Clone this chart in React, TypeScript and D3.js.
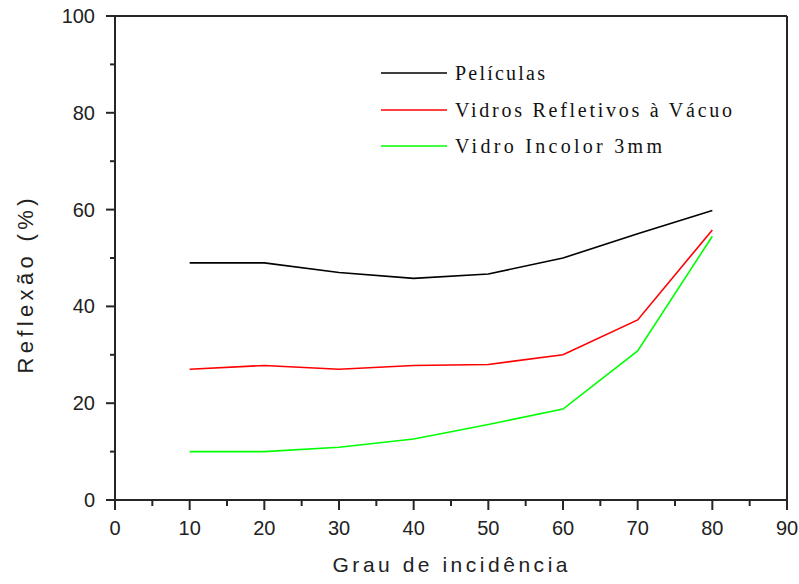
import * as d3 from "d3";

const angles = [10, 20, 30, 40, 50, 60, 70, 80];
const peliculas = [49, 49, 47, 45.8, 46.7, 50, 55, 59.8];
const vidrosRefletivos = [27, 27.8, 27, 27.8, 28, 30, 37.2, 55.8];
const vidroIncolor = [10, 10, 10.9, 12.6, 15.6, 18.8, 30.8, 54.5];

const seriesNames = ["Películas", "Vidros Refletivos à Vácuo", "Vidro Incolor 3mm"];
const seriesColors = ["#000000", "#ff0000", "#00ff00"];
const seriesValues = [peliculas, vidrosRefletivos, vidroIncolor];

const xMajorTicks = [0, 10, 20, 30, 40, 50, 60, 70, 80, 90];
const xMinorTicks = [5, 15, 25, 35, 45, 55, 65, 75, 85];
const yMajorTicks = [0, 20, 40, 60, 80, 100];
const yMinorTicks = [10, 30, 50, 70, 90];

export default function App() {
  const width = 799;
  const height = 584;
  const left = 115;
  const right = 787;
  const top = 16;
  const bottom = 500;

  const x = d3.scaleLinear().domain([0, 90]).range([left, right]);
  const y = d3.scaleLinear().domain([0, 100]).range([bottom, top]);

  const line = d3
    .line<number>()
    .x((_, i) => x(angles[i]))
    .y((d) => y(d));

  const axisColor = "#262626";
  const sans = "'Liberation Sans', Arial, sans-serif";
  const serif = "'Liberation Serif', 'Times New Roman', serif";

  // legend rows
  const legendY = [73, 110, 146];
  const legendTextW = [90, 277, 207];

  return (
    <svg
      width={width}
      height={height}
      style={{ position: "absolute", left: 0, top: 0, background: "#fff" }}
    >
      {/* data lines */}
      {seriesValues.map((vals, i) => (
        <path
          key={i}
          d={line(vals) || ""}
          fill="none"
          stroke={seriesColors[i]}
          strokeWidth={1.6}
        />
      ))}

      {/* frame */}
      <line x1={left} x2={right} y1={top} y2={top} stroke={axisColor} strokeWidth={2} />
      <line x1={right} x2={right} y1={top} y2={bottom} stroke={axisColor} strokeWidth={2} />
      <line x1={left} x2={right} y1={bottom} y2={bottom} stroke={axisColor} strokeWidth={2} />
      <line x1={left} x2={left} y1={top} y2={bottom} stroke={axisColor} strokeWidth={2} />

      {/* x ticks */}
      {xMajorTicks.map((t) => (
        <g key={"xm" + t}>
          <line x1={x(t)} x2={x(t)} y1={bottom} y2={bottom + 10} stroke={axisColor} strokeWidth={2} />
          <text x={x(t)} y={535} textAnchor="middle" fontFamily={sans} fontSize={20} fill="#222">
            {t}
          </text>
        </g>
      ))}
      {xMinorTicks.map((t) => (
        <line key={"xn" + t} x1={x(t)} x2={x(t)} y1={bottom} y2={bottom + 6} stroke={axisColor} strokeWidth={2} />
      ))}

      {/* y ticks */}
      {yMajorTicks.map((t) => (
        <g key={"ym" + t}>
          <line x1={left - 9} x2={left} y1={y(t)} y2={y(t)} stroke={axisColor} strokeWidth={2} />
          <text x={95} y={y(t) + 7} textAnchor="end" fontFamily={sans} fontSize={20} fill="#222">
            {t}
          </text>
        </g>
      ))}
      {yMinorTicks.map((t) => (
        <line key={"yn" + t} x1={left - 5} x2={left} y1={y(t)} y2={y(t)} stroke={axisColor} strokeWidth={2} />
      ))}

      {/* axis titles */}
      <text
        x={450}
        y={572}
        textAnchor="middle"
        fontFamily={sans}
        fontSize={21}
        fill="#222"
        textLength={235}
        lengthAdjust="spacing"
      >
        Grau de incidência
      </text>
      <text
        transform="translate(33,286) rotate(-90)"
        textAnchor="middle"
        fontFamily={sans}
        fontSize={22}
        fill="#222"
        textLength={175}
        lengthAdjust="spacing"
      >
        Reflexão (%)
      </text>

      {/* legend */}
      {seriesNames.map((name, i) => (
        <g key={"lg" + i}>
          <line x1={381} x2={447} y1={legendY[i]} y2={legendY[i]} stroke={seriesColors[i]} strokeWidth={1.6} />
          <text
            x={455}
            y={legendY[i] + 7}
            fontFamily={serif}
            fontSize={20}
            fill="#111"
            textLength={legendTextW[i]}
            lengthAdjust="spacing"
          >
            {name}
          </text>
        </g>
      ))}
    </svg>
  );
}
